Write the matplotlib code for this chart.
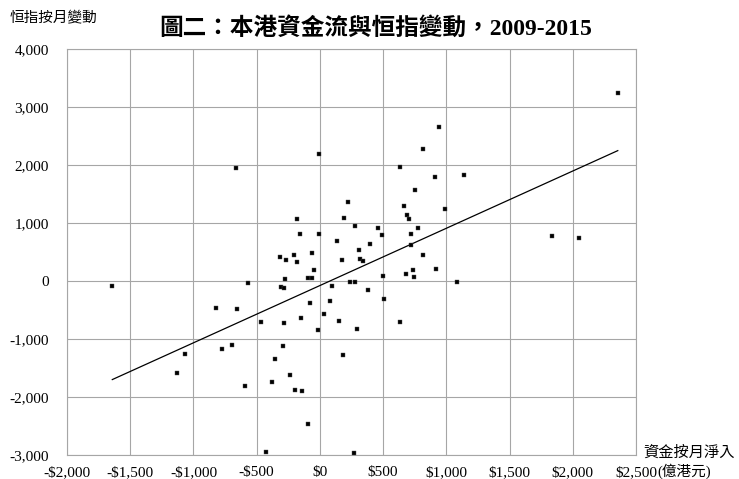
import matplotlib.pyplot as plt
import numpy as np

plt.rcParams['font.family'] = ['Liberation Serif', 'Noto Sans CJK TC']

# 資金按月淨入 (億港元) vs 恒指按月變動
fund_flow = [-1642, -1128, -1067, -822, -775, -696, -666, -654, -590, -572,
             -466, -427, -379, -358, -316, -306, -290, -282, -282, -274,
             -266, -237, -203, -198, -184, -179, -158, -148, -140, -95,
             -92, -77, -61, -61, -50, -16, -5, -5, 29, 82,
             95, 134, 150, 174, 179, 192, 221, 242, 271, 274,
             277, 295, 311, 316, 343, 379, 395, 461, 488, 498,
             504, 632, 632, 667, 682, 690, 706, 722, 723, 735,
             743, 756, 777, 814, 817, 912, 917, 941, 991, 1083,
             1136, 1837, 2050, 2356]
hsi_change = [-90, -1591, -1268, -464, -1177, -1108, 1946, -487, -1810, -38,
              -716, -2948, -1751, -1349, 405, -107, -1130, -129, -728, 26,
              364, -1620, 440, -1879, 1066, 319, 813, -647, -1907, -2471,
              43, -383, 485, 48, 192, -849, 802, 2193, -578, -343,
              -84, 681, -688, 359, -1286, 1078, 1360, -15, -2977, 945,
              -15, -832, 537, 381, 347, -153, 630, 905, 796, 78,
              -309, 1958, -711, 1291, 117, 1130, 1072, 623, 802, 192,
              66, 1567, 905, 445, 2274, 1791, 209, 2653, 1234, -21,
              1820, 768, 738, 3235]

x_ticks = [-2000, -1500, -1000, -500, 0, 500, 1000, 1500, 2000, 2500]
x_labels = ['-$2,000', '-$1,500', '-$1,000', '-$500', '$0', '$500',
            '$1,000', '$1,500', '$2,000', '$2,500']
y_ticks = [-3000, -2000, -1000, 0, 1000, 2000, 3000, 4000]
y_labels = ['-3,000', '-2,000', '-1,000', '0', '1,000', '2,000', '3,000', '4,000']

fund_flow = np.array(fund_flow)
hsi_change = np.array(hsi_change)

fig = plt.figure(figsize=(7.39, 4.79), dpi=100)
ax = fig.add_axes([0.0907, 0.0507, 0.7699, 0.847])

grid_c = '#a6a6a6'
ax.set_xlim(-2000, 2500)
ax.set_ylim(-3000, 4000)
ax.set_xticks(x_ticks)
ax.set_xticklabels(x_labels)
ax.set_yticks(y_ticks)
ax.set_yticklabels(y_labels)
ax.tick_params(length=0, labelsize=11, colors='black')
ax.tick_params(axis='x', pad=8)
ax.tick_params(axis='y', pad=13)
ax.grid(True, color=grid_c, linewidth=0.8)
ax.set_axisbelow(True)
for s in ax.spines.values():
    s.set_color(grid_c)
    s.set_linewidth(0.8)

ax.scatter(fund_flow, hsi_change, marker='s', s=5.5, c='black',
           edgecolors='#555555', linewidths=0.3, zorder=3)

# 線性趨勢線
k, b = np.polyfit(fund_flow, hsi_change, 1)
xs = np.array([fund_flow.min(), fund_flow.max()])
ax.plot(xs, k * xs + b, color='black', linewidth=0.9, zorder=2)

fig.text(0.508, 0.94, '圖二：本港資金流與恒指變動，2009-2015',
         ha='center', va='center', fontsize=17, fontweight='bold')
fig.text(0.013, 0.962, '恒指按月變動', ha='left', va='center', fontsize=10.5)
fig.text(0.871, 0.056, '資金按月淨入', ha='left', va='center', fontsize=11)
fig.text(0.889, 0.016, '(億港元)', ha='left', va='center', fontsize=10.5)

fig.savefig('out.png', dpi=100)
